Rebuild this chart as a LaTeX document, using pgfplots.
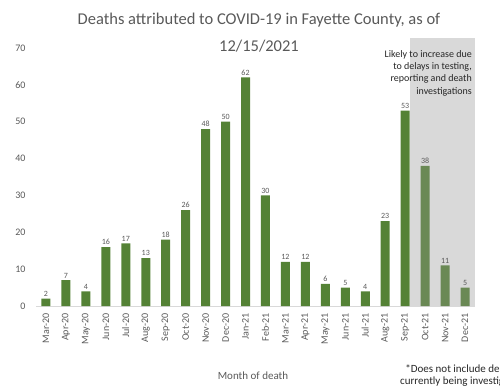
\documentclass[border=0pt]{standalone}
\usepackage{pgfplots}
\pgfplotsset{compat=1.18}
\usepackage{fontspec}
\setmainfont{Carlito}
\definecolor{bargreen}{HTML}{548235}
\definecolor{fadegreen}{HTML}{6A8955}
\definecolor{bggray}{HTML}{D9D9D9}
\definecolor{txt}{HTML}{595959}
\definecolor{dark}{HTML}{262626}
\begin{document}
\begin{tikzpicture}[x=1pt,y=1pt]
\useasboundingbox (0pt,0pt) rectangle (500pt,386pt);
\clip (0pt,0pt) rectangle (500pt,386pt);
\begin{axis}[
  at={(36pt,80pt)}, anchor=south west,
  scale only axis, width=439pt, height=258pt,
  xmin=-0.5, xmax=21.5, ymin=0, ymax=70,
  clip=false,
  ybar, bar width=9pt,
  axis x line*=bottom, axis y line*=left,
  y axis line style={draw=none},
  x axis line style={draw=bggray, line width=0.8pt},
  major tick length=0pt,
  ytick={0,10,...,70},
  xtick={0,...,21},
  xticklabels={Mar-20,Apr-20,May-20,Jun-20,Jul-20,Aug-20,Sep-20,Oct-20,Nov-20,Dec-20,Jan-21,Feb-21,Mar-21,Apr-21,May-21,Jun-21,Jul-21,Aug-21,Sep-21,Oct-21,Nov-21,Dec-21},
  /pgf/number format/assume math mode=true,
  yticklabel style={font=\fontsize{10}{12}\selectfont, text=txt, xshift=-7pt},
  xticklabel style={font=\fontsize{10}{12}\selectfont, text=txt, rotate=90, anchor=east, xshift=-4pt},
  nodes near coords,
  every node near coord/.append style={font=\fontsize{8}{9}\selectfont, text=txt, anchor=south, inner sep=2pt},
]
\fill[bggray] (axis cs:18.25,0) rectangle (axis cs:21.5,72.7);
\addplot[fill=bargreen, draw=none, bar shift=0pt] coordinates {
(0,2) (1,7) (2,4) (3,16) (4,17) (5,13) (6,18) (7,26) (8,48) (9,50)
(10,62) (11,30) (12,12) (13,12) (14,6) (15,5) (16,4) (17,23) (18,53)};
\addplot[fill=fadegreen, draw=none, bar shift=0pt] coordinates {
(19,38) (20,11) (21,5)};
\end{axis}
\node[anchor=base, font=\fontsize{16.5}{19}\selectfont, text=txt] at (259pt,361pt) {Deaths attributed to COVID-19 in Fayette County, as of};
\node[anchor=base, font=\fontsize{16.5}{19}\selectfont, text=txt] at (259pt,334pt) {12/15/2021};
\node[anchor=north east, align=right, font=\fontsize{10}{12.3}\selectfont, text=dark, inner sep=0pt] at (472pt,336pt) {Likely to increase due\\to delays in testing,\\reporting and death\\investigations};
\node[font=\fontsize{11}{13}\selectfont, text=txt] at (253pt,10pt) {Month of death};
\node[align=center, font=\fontsize{11}{12.5}\selectfont, text=dark, anchor=north] at (462pt,25pt) {*Does not include deaths\\currently being investigated};
\end{tikzpicture}
\end{document}
